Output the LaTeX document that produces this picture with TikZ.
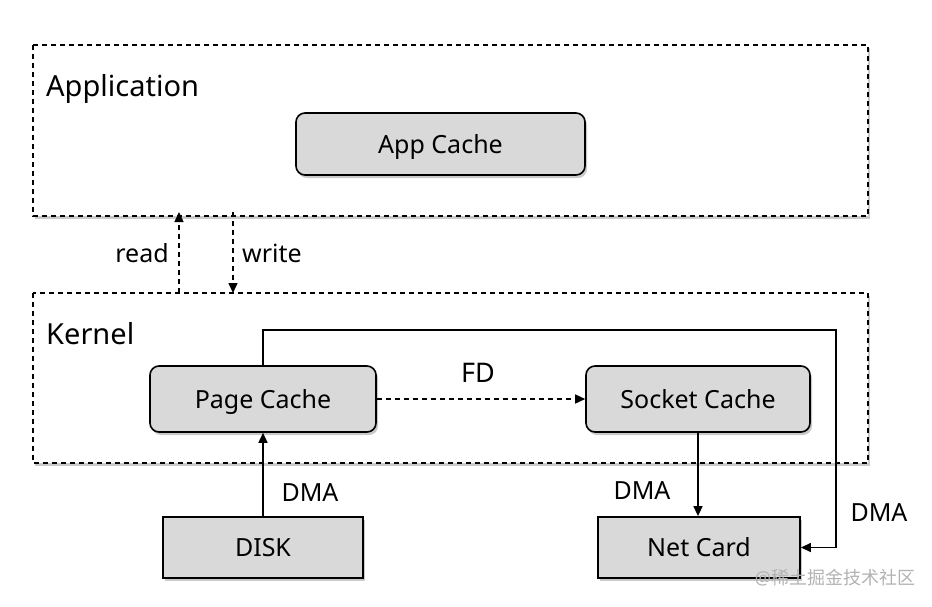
\documentclass[tikz,border=0pt]{standalone}
\usepackage{fontspec}
\setmainfont{Noto Sans}
\newfontfamily\cjk{Noto Sans CJK SC}
\usetikzlibrary{shadows,arrows.meta}
\begin{document}
\begin{tikzpicture}[x=1pt,y=-1pt,
  font=\fontsize{25}{28}\selectfont,
  shad/.style={drop shadow={shadow xshift=2pt,shadow yshift=-3pt,fill=black!35,opacity=0.6}},
  region/.style={draw,dashed,line width=1.5pt,dash pattern=on 5pt off 4pt,fill=white,shad},
  cachebox/.style={draw,line width=1.6pt,rounded corners=9pt,fill=black!15,shad,text height=20pt,text depth=2pt},
  devbox/.style={draw,line width=1.8pt,fill=black!15,shad,text height=20pt,text depth=2pt},
  conn/.style={line width=1.5pt,-{Triangle[length=10pt,width=9pt]}},
  dconn/.style={conn,dash pattern=on 5pt off 4pt},
  lbl/.style={inner sep=0pt}
]
\useasboundingbox (0,0) rectangle (932,606);
% regions
\draw[region] (33,45) rectangle (868,216);
\node[lbl,anchor=west] (applbl) at (46,89) {\fontsize{29}{32}\selectfont Application};
\draw[region] (33,293) rectangle (868,463);
\node[lbl,anchor=west] (kernlbl) at (46,334) {\fontsize{29}{32}\selectfont Kernel};
% boxes
\node[cachebox,minimum width=289pt,minimum height=62pt] (app) at (440.5,144) {App Cache};
\node[cachebox,minimum width=226pt,minimum height=66pt] (page) at (263,399) {Page Cache};
\node[cachebox,minimum width=224pt,minimum height=66pt] (sock) at (698,399) {Socket Cache};
\node[devbox,minimum width=200pt,minimum height=61pt] (disk) at (263,547.5) {DISK};
\node[devbox,minimum width=202pt,minimum height=61pt] (net) at (699,547.5) {Net Card};
% read/write
\coordinate (rbot) at (179,293);
\coordinate (rtop) at (179,212);
\coordinate (wtop) at (233,212);
\coordinate (wbot) at (233,293);
\draw[dconn] (rbot) -- (rtop);
\draw[dconn] (wtop) -- (wbot);
\node[lbl] (readl) at (142,253) {read};
\node[lbl] (writel) at (272,253) {write};
% FD
\draw[dconn] (page.east) -- (sock.west);
\node[lbl] (fdl) at (478,373) {\fontsize{27}{30}\selectfont FD};
% DMA
\draw[conn] (disk.north) -- (page.south);
\node[lbl] (dma1) at (310,493) {DMA};
\draw[conn] (sock.south) -- (net.north -| sock.south);
\node[lbl] (dma2) at (642,491) {DMA};
\coordinate (c1) at (836,330);
\draw[conn] (page.north) |- (c1) |- (net.east);
\node[lbl] (dma3) at (879,513) {DMA};
% watermark
\node[lbl,text=black!30] (wm) at (835,578) {\fontsize{18}{20}\selectfont @\cjk 稀土掘金技术社区};
\end{tikzpicture}
\end{document}
